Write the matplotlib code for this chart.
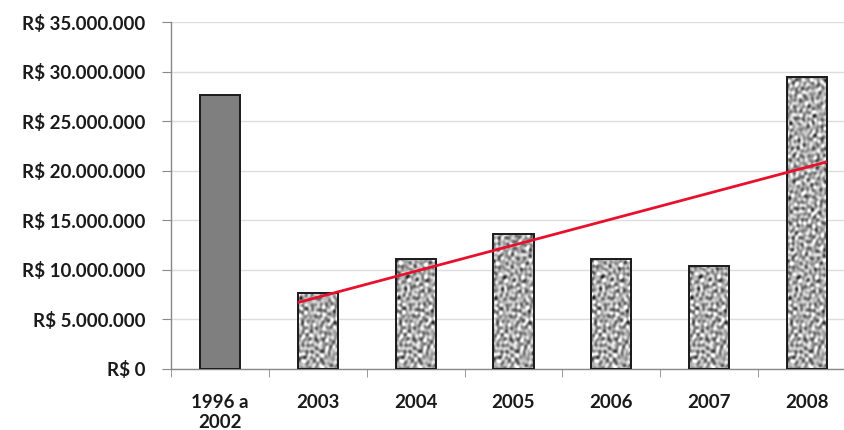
import numpy as np
import matplotlib
matplotlib.use("Agg")
import matplotlib.pyplot as plt
from matplotlib.ticker import FuncFormatter

categories = ["1996 a\n2002", "2003", "2004", "2005", "2006", "2007", "2008"]
values = [27.6e6, 7.65e6, 11.1e6, 13.6e6, 11.1e6, 10.4e6, 29.5e6]
trend_values = [6.7e6, 20.9e6]  # trend line value at start (2003) and end (2008)
yticks = np.arange(0, 35e6 + 1, 5e6)

plt.rcParams['font.family'] = ['Lato', 'DejaVu Sans']

fig = plt.figure(figsize=(8.45, 4.3), dpi=100)
ax = fig.add_axes([171/845, 61/430, 685/845, 347/430])

x = np.arange(len(categories))
width = 0.41

# deterministic granite-like texture (pixel scale: 42 cols x 350 rows)
yy, xx = np.mgrid[0:350, 0:42].astype(float)
tex = np.zeros_like(xx)
angles = [0.3, 1.1, 1.9, 2.6, 0.7, 1.5, 2.3, 2.9, 0.1, 1.3, 2.1, 2.75]
freqs = [0.95, 0.83, 1.07, 0.71, 1.21, 0.62, 0.91, 1.33, 0.77, 1.02, 0.58, 1.15]
phases = [0.0, 1.7, 3.1, 4.4, 2.2, 5.3, 0.9, 3.8, 2.7, 4.9, 1.2, 5.9]
for a, f, p in zip(angles, freqs, phases):
    tex += np.sin(f * (xx*np.cos(a) + yy*np.sin(a)) + p + 1.5*np.sin(0.23*f*(yy*np.cos(a) - xx*np.sin(a))))
tex = (tex - tex.min()) / (tex.max() - tex.min())

bars = ax.bar(x, values, width=width, color="#7f7f7f", edgecolor="#1a1a1a",
              linewidth=1.4, zorder=3)
for i, b in enumerate(bars):
    if i == 0:
        continue
    b.set_facecolor("none")
    x0 = b.get_x()
    im = ax.imshow(tex, cmap="gray", vmin=-0.05, vmax=0.8, aspect="auto",
                   extent=[x0, x0 + b.get_width(), 0, 35e6], origin="lower",
                   zorder=2.5, interpolation="bilinear")
    im.set_clip_path(b)

# trend line: from left edge of 2003 bar to right edge of 2008 bar
tx = [x[1] - width/2, x[-1] + width/2]
ax.plot(tx, trend_values, color="#e8112d", linewidth=2, zorder=4, solid_capstyle="butt")

ax.set_xlim(-0.5, len(categories) - 0.5)
ax.set_ylim(0, 35e6)
ax.set_yticks(yticks)
ax.yaxis.set_major_formatter(FuncFormatter(lambda v, p: "R$ " + f"{int(v):,}".replace(",", ".")))
ax.set_xticks(x)
ax.set_xticklabels(categories, fontweight="bold", fontsize=13.5, color="#1a1a1a",
                   linespacing=1.25)
ax.set_xticks(np.arange(-0.5, len(categories)), minor=True)
ax.tick_params(axis="x", which="major", length=0, pad=18)
ax.tick_params(axis="x", which="minor", length=6, color="#888888", direction="out")
ax.tick_params(axis="y", length=6.5, color="#888888", pad=12)
for lab in ax.get_yticklabels():
    lab.set_fontweight("bold")
    lab.set_fontsize(13.5)
    lab.set_color("#1a1a1a")

ax.grid(axis="y", color="#dddddd", linewidth=1, zorder=0)
ax.set_axisbelow(True)
for s in ["top", "right"]:
    ax.spines[s].set_visible(False)
for s in ["left", "bottom"]:
    ax.spines[s].set_color("#888888")
    ax.spines[s].set_linewidth(1)

fig.savefig("out.png", dpi=100)
